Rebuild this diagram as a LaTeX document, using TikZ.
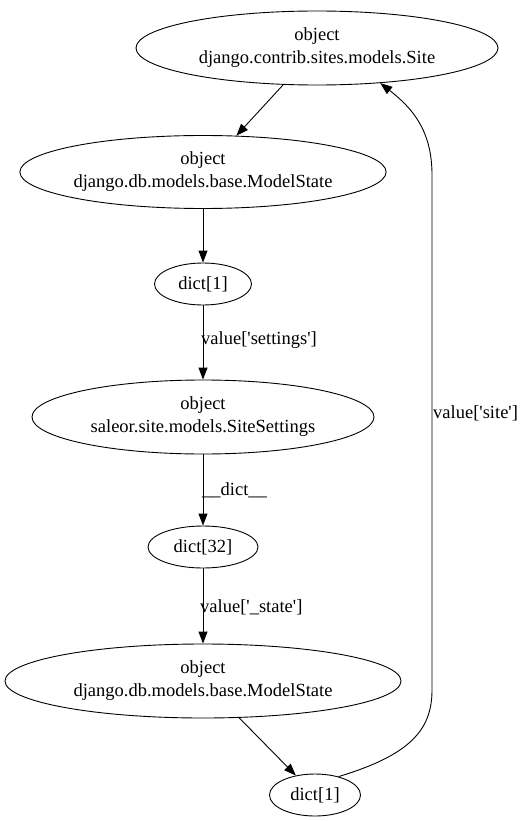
\documentclass[tikz,border=0pt]{standalone}
\usepackage{fontspec}
\setmainfont{Liberation Serif}[Ligatures=TeXOff]
\usetikzlibrary{arrows.meta,shapes.geometric}
\begin{document}
\begin{tikzpicture}[x=1pt,y=-1pt,
  obj/.style={draw,ellipse,inner sep=0pt,line width=0.9pt,align=center,font=\fontsize{18.5}{23}\selectfont},
  edge/.style={draw,line width=0.9pt,-{Triangle[length=12pt,width=9pt]}},
  lbl/.style={anchor=west,inner sep=0pt,font=\fontsize{18.5}{23}\selectfont}]
\useasboundingbox (0,0) rectangle (523,821);
\node[obj,minimum width=362,minimum height=74] (site) at (317,48) {object\\django.contrib.sites.models.Site};
\node[obj,minimum width=342,minimum height=73] (ms1) at (203,172) {object\\django.db.models.base.ModelState};
\node[obj,minimum width=97,minimum height=42] (d1) at (203,284) {dict[1]};
\node[obj,minimum width=342,minimum height=74] (ss) at (203,417) {object\\saleor.site.models.SiteSettings};
\node[obj,minimum width=110,minimum height=42] (d32) at (203,547) {dict[32]};
\node[obj,minimum width=396,minimum height=74] (ms2) at (203,681) {object\\django.db.models.base.ModelState};
\node[obj,minimum width=91,minimum height=42] (d2) at (315,795) {dict[1]};
\draw[edge] (site) -- (ms1);
\draw[edge] (ms1) -- (d1);
\draw[edge] (d1) -- (ss);
\draw[edge] (ss) -- (d32);
\draw[edge] (d32) -- (ms2);
\draw[edge] (ms2) -- (d2);
\draw[edge] (d2.38) .. controls (410,755) and (432,730) .. (432,690) -- (432,175) .. controls (432,130) and (412,108) .. (site.-29);
\node[lbl] (l1) at (201,340) {value['settings']};
\node[lbl] (l2) at (202,490) {\_\_dict\_\_};
\node[lbl] (l3) at (200,607) {value['\_state']};
\node[lbl] (l4) at (433,413) {value['site']};
\end{tikzpicture}
\end{document}
